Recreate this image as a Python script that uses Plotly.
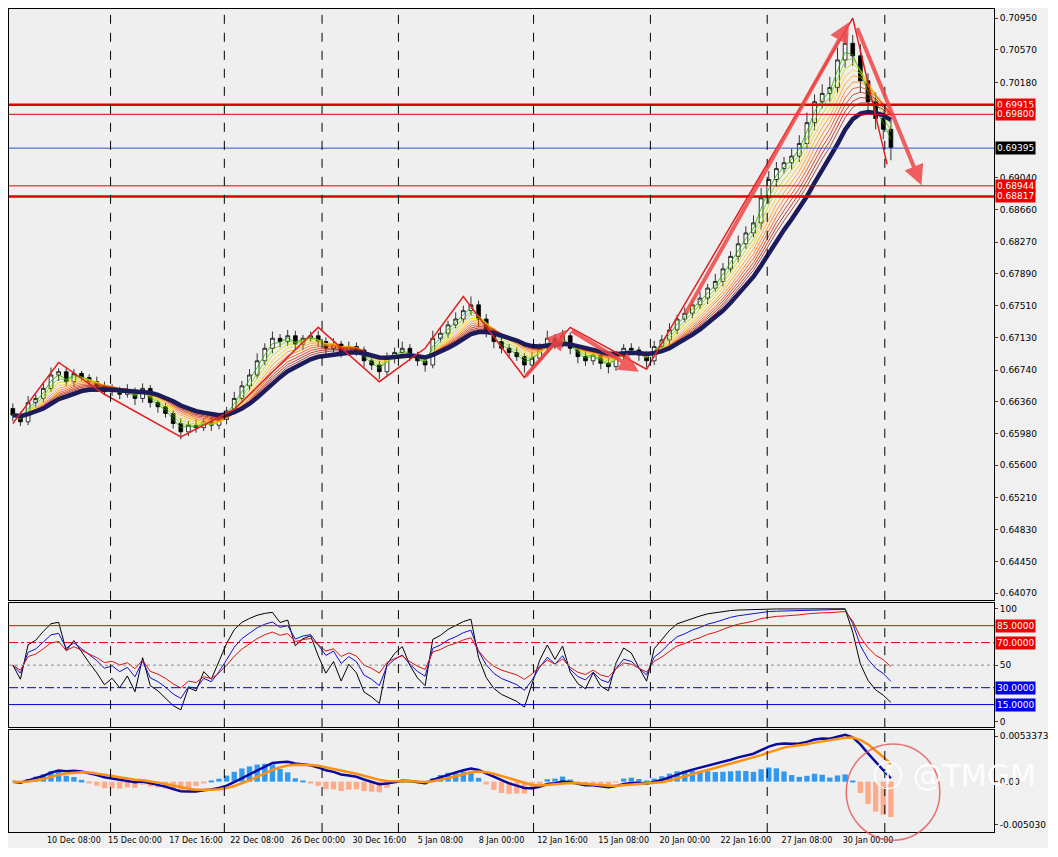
import plotly.graph_objects as go
from plotly.subplots import make_subplots

# 8h candles, closes
closes = [0.6620, 0.6612, 0.6635, 0.6640, 0.6652, 0.6668, 0.6672, 0.6660, 0.6670, 0.6665,
          0.6660, 0.6655, 0.6648, 0.6650, 0.6645, 0.6648, 0.6640, 0.6652, 0.6635, 0.6630,
          0.6622, 0.6610, 0.6600, 0.6608, 0.6605, 0.6612, 0.6608, 0.6615, 0.6625, 0.6640,
          0.6655, 0.6668, 0.6685, 0.6700, 0.6712, 0.6708, 0.6715, 0.6705, 0.6712, 0.6715,
          0.6708, 0.6700, 0.6705, 0.6695, 0.6702, 0.6698, 0.6685, 0.6680, 0.6672, 0.6688,
          0.6695, 0.6700, 0.6692, 0.6685, 0.6680, 0.6712, 0.6718, 0.6728, 0.6735, 0.6745,
          0.6752, 0.6735, 0.6720, 0.6708, 0.6700, 0.6695, 0.6690, 0.6680, 0.6688, 0.6700,
          0.6712, 0.6705, 0.6715, 0.6700, 0.6690, 0.6685, 0.6692, 0.6682, 0.6678, 0.6690,
          0.6700, 0.6698, 0.6692, 0.6685, 0.6702, 0.6710, 0.6722, 0.6735, 0.6742, 0.6752,
          0.6760, 0.6772, 0.6780, 0.6795, 0.6810, 0.6825, 0.6838, 0.6850, 0.6880, 0.6902,
          0.6915, 0.6922, 0.6930, 0.6945, 0.6970, 0.6995, 0.7005, 0.7012, 0.7045, 0.7065,
          0.7050, 0.7020, 0.6995, 0.6975, 0.6962, 0.6940]
first_open = 0.6628
wick_up = [6, 4, 8, 5, 7, 9, 4, 6, 5, 3, 4, 6, 5, 7, 4, 9, 5, 6, 4, 3,
           5, 4, 6, 5, 7, 4, 5, 6, 5, 8, 6, 7, 9, 6, 8, 5, 7, 6, 4, 5,
           6, 5, 7, 4, 6, 5, 4, 6, 5, 7, 6, 8, 5, 4, 6, 9, 7, 5, 8, 6,
           10, 5, 6, 4, 7, 5, 6, 4, 8, 6, 9, 5, 7, 4, 5, 6, 5, 4, 6, 7,
           5, 6, 4, 5, 7, 6, 8, 5, 7, 6, 8, 5, 9, 7, 6, 10, 8, 9, 12, 10,
           8, 7, 9, 10, 12, 9, 11, 13, 15, 12, 10, 14, 9, 11, 10, 12]
wick_dn = [7, 5, 4, 6, 5, 4, 7, 5, 6, 4, 5, 7, 4, 5, 6, 4, 8, 5, 6, 7,
           5, 6, 9, 5, 6, 4, 7, 5, 6, 4, 5, 6, 4, 5, 6, 7, 5, 6, 7, 4,
           6, 8, 5, 6, 4, 7, 8, 6, 9, 5, 6, 4, 7, 6, 8, 4, 5, 6, 4, 5,
           6, 9, 7, 8, 6, 7, 5, 9, 6, 4, 5, 6, 4, 7, 8, 6, 5, 7, 8, 5,
           4, 6, 7, 8, 5, 4, 6, 5, 4, 6, 5, 7, 4, 6, 5, 7, 6, 5, 8, 7,
           9, 6, 8, 7, 6, 9, 8, 10, 7, 9, 12, 14, 11, 13, 12, 15]

tick_pos = [0, 8, 16, 24, 32, 40, 48, 56, 64, 72, 80, 88, 96, 104, 112]
tick_text = ["16:00", "10 Dec 08:00", "15 Dec 00:00", "17 Dec 16:00", "22 Dec 08:00",
             "26 Dec 00:00", "30 Dec 16:00", "5 Jan 08:00", "8 Jan 00:00", "12 Jan 16:00",
             "15 Jan 08:00", "20 Jan 00:00", "22 Jan 16:00", "27 Jan 08:00", "30 Jan 00:00"]
week_lines = [12.8, 27.7, 40.5, 50.5, 68.2, 83.5, 98.8, 114.2]

levels = [(0.69915, 2.5, "#e00000"), (0.69800, 1, "#e00000"), (0.69395, 1, "#3050d0"),
          (0.68944, 1, "#e00000"), (0.68817, 2.5, "#e00000")]
price_ticks = [0.70950, 0.70570, 0.70180, 0.69040, 0.68660, 0.68270, 0.67890, 0.67510,
               0.67130, 0.66740, 0.66360, 0.65980, 0.65600, 0.65210, 0.64830, 0.64450, 0.64070]

# zigzag drawing (index, price)
zig_x = [0, 6, 12, 22, 29, 40, 48, 54, 59, 67, 73, 83, 110, 114.5]
zig_y = [0.6610, 0.6683, 0.6645, 0.6594, 0.6627, 0.6725, 0.6660, 0.6700, 0.6762, 0.6665,
         0.6725, 0.6675, 0.7095, 0.6920]
arrows = [(67, 0.6665, 72.5, 0.6722), (73, 0.6722, 82, 0.6672), (88, 0.6740, 109.5, 0.7090),
          (110.5, 0.7085, 119, 0.6895)]

opens = [first_open] + closes[:-1]
highs = [max(o, c) + w * 0.0001 for o, c, w in zip(opens, closes, wick_up)]
lows = [min(o, c) - w * 0.0001 for o, c, w in zip(opens, closes, wick_dn)]
xs = list(range(len(closes)))


def ema(vals, n):
    k = 2 / (n + 1)
    out = [vals[0]]
    for v in vals[1:]:
        out.append(out[-1] + k * (v - out[-1]))
    return out


def rsi(vals, n):
    out = [50]
    up, dn = 0.0004, 0.0004
    for i in range(1, len(vals)):
        d = vals[i] - vals[i - 1]
        up = (up * (n - 1) + max(d, 0)) / n
        dn = (dn * (n - 1) + max(-d, 0)) / n
        out.append(100 - 100 / (1 + up / dn))
    return out


fig = make_subplots(rows=3, cols=1, shared_xaxes=True, vertical_spacing=0.004,
                    row_heights=[605, 127, 104])

rainbow = ["#22aa00", "#77cc00", "#bbdd00", "#ffcc00", "#ff9900", "#ff7700",
           "#ee4400", "#cc2200", "#aa1100", "#992222"]
for n, col in zip(range(2, 12), rainbow):
    fig.add_trace(go.Scatter(x=xs, y=ema(closes, n), mode="lines",
                             line=dict(color=col, width=0.8)), row=1, col=1)
fig.add_trace(go.Scatter(x=xs, y=ema(closes, 13), mode="lines",
                         line=dict(color="#1c1c5c", width=4.5)), row=1, col=1)

fig.add_trace(go.Candlestick(x=xs, open=opens, high=highs, low=lows, close=closes,
                             increasing=dict(line=dict(color="black", width=0.8), fillcolor="white"),
                             decreasing=dict(line=dict(color="black", width=0.8), fillcolor="black"),
                             whiskerwidth=0), row=1, col=1)

fig.add_trace(go.Scatter(x=zig_x, y=zig_y, mode="lines",
                         line=dict(color="#e02020", width=1.5)), row=1, col=1)

for y, w, c in levels:
    fig.add_hline(y=y, line=dict(color=c, width=w), row=1, col=1)

# oscillator
fig.add_trace(go.Scatter(x=xs, y=rsi(closes, 4), mode="lines", line=dict(color="black", width=1)), row=2, col=1)
fig.add_trace(go.Scatter(x=xs, y=rsi(closes, 7), mode="lines", line=dict(color="#1010d0", width=1)), row=2, col=1)
fig.add_trace(go.Scatter(x=xs, y=rsi(closes, 11), mode="lines", line=dict(color="#e01010", width=1)), row=2, col=1)
for y, c, d in [(85, "#e00000", "solid"), (70, "#e00000", "dashdot"), (50, "#888888", "dot"),
                (30, "#0000e0", "dashdot"), (15, "#0000e0", "solid")]:
    fig.add_hline(y=y, line=dict(color=c, width=1, dash=d), row=2, col=1)

# macd
macd = [a - b for a, b in zip(ema(closes, 6), ema(closes, 13))]
sig = ema(macd, 5)
hist = [(m - s) * 2.5 for m, s in zip(macd, sig)]
fig.add_trace(go.Bar(x=xs, y=hist, marker_color=["#3399ee" if h >= 0 else "#ffaa88" for h in hist],
                     marker_line_width=0, width=0.7), row=3, col=1)
fig.add_trace(go.Scatter(x=xs, y=macd, mode="lines", line=dict(color="#0a0aa0", width=2.5)), row=3, col=1)
fig.add_trace(go.Scatter(x=xs, y=sig, mode="lines", line=dict(color="#ff9010", width=2.5)), row=3, col=1)

for r in (1, 2, 3):
    for wl in week_lines:
        fig.add_vline(x=wl, line=dict(color="black", width=1, dash="dash"), row=r, col=1)

for x0, y0, x1, y1 in arrows:
    fig.add_annotation(x=x1, y=y1, ax=x0, ay=y0, xref="x", yref="y", axref="x", ayref="y",
                       showarrow=True, arrowhead=2, arrowsize=1, arrowwidth=4,
                       arrowcolor="rgba(240,70,70,0.85)", text="")

for y, w, c in levels:
    fig.add_annotation(x=1.0, y=y, xref="paper", yref="y", xanchor="left", showarrow=False,
                       text=f"{y:.5f}", font=dict(color="white", size=9, family="DejaVu Sans"),
                       bgcolor="black" if c == "#3050d0" else "#ee0000", borderpad=1, xshift=1)
for y, c in [(85, "#ee0000"), (70, "#ee0000"), (30, "#0000ee"), (15, "#0000ee")]:
    fig.add_annotation(x=1.0, y=y, xref="paper", yref="y2", xanchor="left", showarrow=False,
                       text=f"{y:.4f}", font=dict(color="white", size=9, family="DejaVu Sans"),
                       bgcolor=c, borderpad=1, xshift=1)

fig.add_annotation(x=1.045, y=0.045, xref="paper", yref="paper", xanchor="right",
                   text="ⓕ @TMGM", showarrow=False,
                   font=dict(size=30, color="rgba(255,255,255,0.9)", family="DejaVu Sans"))
fig.add_shape(type="circle", xref="paper", yref="paper", x0=0.85, x1=0.945, y0=-0.01, y1=0.107,
              line=dict(color="rgba(230,80,80,0.8)", width=1.5))

fig.update_xaxes(range=[-0.5, 128.5], showgrid=False, rangeslider_visible=False, zeroline=False,
                 tickvals=tick_pos, ticktext=tick_text, showticklabels=False, ticks="",
                 showline=True, linecolor="black", mirror=True)
fig.update_xaxes(showticklabels=True, tickangle=0, tickfont=dict(size=8), row=3, col=1)
fig.update_yaxes(side="right", showgrid=False, zeroline=False, tickfont=dict(size=9),
                 ticks="outside", ticklen=3, showline=True, linecolor="black", mirror=True)
fig.update_yaxes(range=[0.63990, 0.71060], tickvals=price_ticks, tickformat=".5f", row=1, col=1)
fig.update_yaxes(range=[-5, 105], tickvals=[0, 50, 100], row=2, col=1)
fig.update_yaxes(range=[-0.0059, 0.0060], tickvals=[0.0053373, 0, -0.00503],
                 ticktext=["0.0053373", "0.00", "-0.005030"], row=3, col=1)

fig.update_layout(width=1040, height=840, margin=dict(l=0, r=52, t=0, b=16),
                  paper_bgcolor="#f0f0f0", plot_bgcolor="#efefef", showlegend=False,
                  font=dict(family="DejaVu Sans", color="black"), bargap=0.2)

fig.write_html("out.html")
